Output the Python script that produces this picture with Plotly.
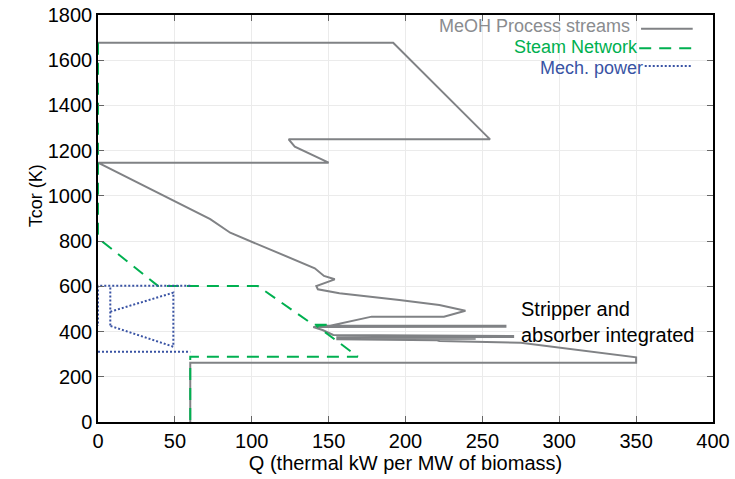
import plotly.graph_objects as go

# MeOH process streams (Q in kW/MW biomass, T in K)
proc_q = [0, 192, 255, 124, 128, 150, 0, 73, 86, 141, 147, 154, 142, 143, 157, 196, 222, 233, 239,
          225, 178, 151, 143, 265, 265, 140, 146, 153, 270, 270, 155, 245, 245, 155, 220, 222, 275,
          350, 350, 60, 60]
proc_t = [1677, 1677, 1250, 1250, 1218, 1147, 1147, 897, 837, 680, 646, 631, 601, 587, 569, 540, 517,
          500, 492, 466, 466, 426, 426, 426, 421, 420, 407, 385, 380, 376, 375, 372, 368, 366, 362,
          358, 350, 286, 262, 262, 0]

# Steam network
steam_q = [0, 0, 3, 39, 104, 140, 151, 142, 169, 60, 60]
steam_t = [1677, 830, 797, 602, 601, 430, 430, 426, 289, 289, 0]

# Mechanical power
mech_q = [0, 60, None, 60, 0, 0, None, 8, 8, None, 8, 49, 49, 8]
mech_t = [311, 311, None, 603, 603, 425, None, 595, 421, None, 488, 572, 333, 425]

x_ticks = [0, 50, 100, 150, 200, 250, 300, 350, 400]
y_ticks = [0, 200, 400, 600, 800, 1000, 1200, 1400, 1600, 1800]

GRAY = "#808285"
GREEN = "#00b050"
BLUE = "#3953a4"
FONT = "Liberation Sans, Arial, sans-serif"

fig = go.Figure()
fig.add_trace(go.Scatter(x=proc_q, y=proc_t, mode="lines",
                         line=dict(color=GRAY, width=2), showlegend=False))
fig.add_trace(go.Scatter(x=steam_q, y=steam_t, mode="lines",
                         line=dict(color=GREEN, width=2, dash="12px,8px"), showlegend=False))
fig.add_trace(go.Scatter(x=mech_q, y=mech_t, mode="lines", connectgaps=False,
                         line=dict(color=BLUE, width=2, dash="2px,2px"), showlegend=False))

# custom legend (text left of sample line, as in reference)
legend_items = [
    ("MeOH Process streams", "#8a8c8f", GRAY, "solid", 0.867, 0.973, 0.883, 0.966),
    ("Steam Network", GREEN, GREEN, "12px,8px", 0.879, 0.921, 0.880, 0.918),
    ("Mech. power", BLUE, BLUE, "2px,2px", 0.888, 0.870, 0.889, 0.875),
]
for text, tcol, lcol, dash, tx, ty, lx, ly in legend_items:
    fig.add_annotation(x=tx, y=ty, xref="paper", yref="paper", text=text, showarrow=False,
                       xanchor="right", yanchor="middle", borderpad=0,
                       font=dict(size=18, color=tcol, family=FONT))
    fig.add_shape(type="line", xref="paper", yref="paper", x0=lx, x1=0.967, y0=ly, y1=ly,
                  line=dict(color=lcol, width=2, dash=dash))

fig.add_annotation(x=(519 - 98) / 615, y=(422 - 322) / 407, xref="paper", yref="paper",
                   text="Stripper and<br>absorber integrated", showarrow=False, align="left",
                   xanchor="left", yanchor="middle", font=dict(size=20, color="black", family=FONT))

fig.add_annotation(x=-0.12, y=0.555, xref="paper", yref="paper", text="Tcor (K)",
                   showarrow=False, textangle=-90, font=dict(size=18, color="black", family=FONT))

axis_common = dict(showline=True, linecolor="black", linewidth=1.5, mirror="allticks",
                   ticks="inside", ticklen=6, tickcolor="#666", tickwidth=1,
                   showgrid=True, gridcolor="#ebebeb", gridwidth=1, zeroline=False,
                   automargin=False,
                   tickfont=dict(size=20, color="black", family=FONT))

fig.update_xaxes(range=[0, 400], tickvals=x_ticks, ticktext=[str(v) for v in x_ticks],
                 title=dict(text="Q (thermal kW per MW of biomass)", standoff=4,
                            font=dict(size=20, color="black", family=FONT)), **axis_common)
fig.update_yaxes(range=[0, 1800], tickvals=y_ticks, ticktext=[str(v) for v in y_ticks],
                 **axis_common)

fig.update_layout(width=735, height=479, margin=dict(l=98, r=22, t=15, b=57),
                  plot_bgcolor="white", paper_bgcolor="white", showlegend=False,
                  font=dict(family=FONT))

fig.write_html("out.html")
